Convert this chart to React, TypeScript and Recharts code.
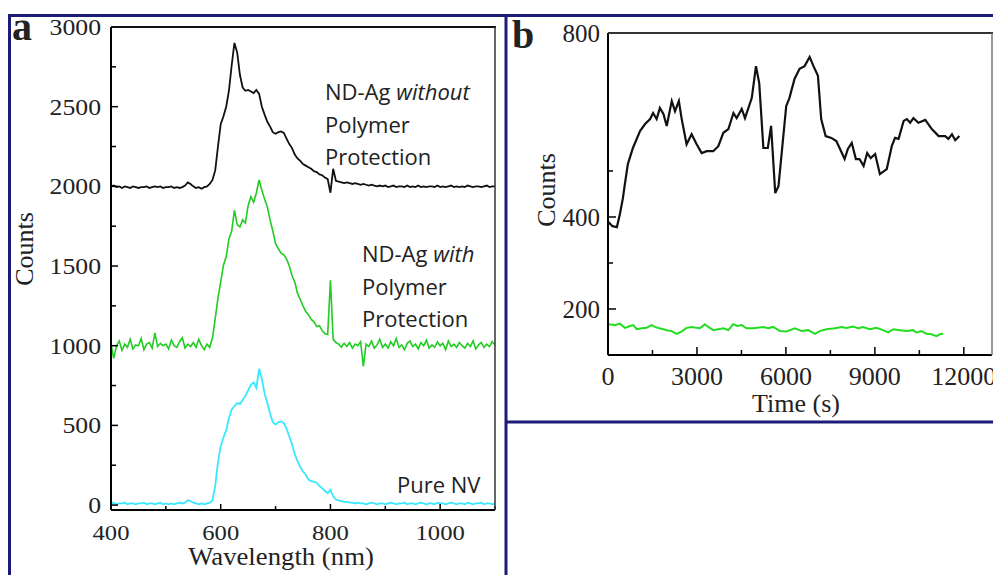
import React from 'react';
import { LineChart, Line, XAxis, YAxis } from 'recharts';

// panel a: emission spectra, 5 nm steps
const wavelengths = [
  400, 405, 410, 415, 420, 425, 430, 435, 440, 445,
  450, 455, 460, 465, 470, 475, 480, 485, 490, 495,
  500, 505, 510, 515, 520, 525, 530, 535, 540, 545,
  550, 555, 560, 565, 570, 575, 580, 585, 590, 595,
  600, 605, 610, 615, 620, 625, 630, 635, 640, 645,
  650, 655, 660, 665, 670, 675, 680, 685, 690, 695,
  700, 705, 710, 715, 720, 725, 730, 735, 740, 745,
  750, 755, 760, 765, 770, 775, 780, 785, 790, 795,
  800, 805, 810, 815, 820, 825, 830, 835, 840, 845,
  850, 855, 860, 865, 870, 875, 880, 885, 890, 895,
  900, 905, 910, 915, 920, 925, 930, 935, 940, 945,
  950, 955, 960, 965, 970, 975, 980, 985, 990, 995,
  1000, 1005, 1010, 1015, 1020, 1025, 1030, 1035, 1040, 1045,
  1050, 1055, 1060, 1065, 1070, 1075, 1080, 1085, 1090, 1095,
  1100,
];

const ndAgWithout = [
  2000, 2005, 1995, 2000, 1990, 2000, 1995, 1990, 2000, 1995,
  1990, 1995, 1995, 2000, 1990, 1995, 2000, 1995, 2000, 1990,
  1995, 1995, 2000, 1990, 1995, 1990, 1995, 2005, 2025, 2015,
  2000, 1990, 1995, 1985, 1995, 2000, 2015, 2040, 2100, 2250,
  2390, 2440, 2500, 2600, 2760, 2900, 2840, 2700, 2620, 2600,
  2605, 2595, 2585, 2605, 2580, 2500, 2450, 2405, 2375, 2340,
  2330, 2340, 2345, 2335, 2300, 2265, 2240, 2200, 2175, 2160,
  2140, 2130, 2120, 2110, 2095, 2090, 2075, 2070, 2055, 2045,
  1960, 2110, 2035, 2030, 2025, 2020, 2025, 2020, 2015, 2020,
  2015, 2010, 2015, 2010, 2005, 2010, 2005, 2000, 2005, 2000,
  2005, 1995, 2000, 2005, 1995, 2000, 2000, 1995, 2005, 1995,
  2000, 1995, 2005, 1995, 2000, 1995, 2000, 2000, 1995, 2005,
  1995, 2000, 1995, 2000, 2005, 1995, 2000, 1995, 2000, 1995,
  2005, 2000, 1995, 2000, 2000, 1995, 2000, 2005, 1995, 2000,
  2000,
];

const ndAgWith = [
  1010, 920, 1000, 1030, 970, 1010, 990, 1040, 980, 1005,
  1000, 1045, 975, 1010, 1020, 985, 1080, 995, 1015, 1000,
  1010, 980, 1035, 1000, 990, 1025, 1050, 985, 1010, 995,
  1020, 990, 1040, 1000, 975, 1010, 990, 1050, 1170, 1300,
  1400, 1505, 1560, 1670, 1720, 1850, 1760, 1745, 1790, 1770,
  1880, 1935, 1900, 1960, 2040, 1975, 1920, 1870, 1790, 1720,
  1640, 1610, 1580, 1570, 1545, 1500, 1440, 1400, 1330, 1290,
  1250, 1215, 1195, 1165, 1150, 1120, 1125, 1095, 1075, 1070,
  1410, 1040, 1020, 1010, 990, 1015, 995, 1020, 985, 1010,
  1000, 1025, 870, 1010, 995, 1030, 985, 1005, 1040, 990,
  1010, 985, 1025, 1000, 1045, 990, 1005, 975, 1015, 1030,
  995, 1010, 980, 1020, 1000, 1035, 985, 1005, 990, 1025,
  1000, 1015, 975, 1030, 995, 1010, 990, 1020, 1000, 985,
  1015, 995, 1030, 980, 1005, 1020, 990, 1010, 995, 1025,
  1005,
];

const pureNV = [
  10, 15, 5, 10, 10, 15, 5, 10, 10, 5,
  10, 10, 15, 5, 10, 10, 5, 10, 15, 5,
  10, 5, 10, 5, 10, 15, 10, 15, 30, 25,
  15, 10, 5, 10, 5, 10, 15, 30, 120, 270,
  370, 425, 470, 545, 600, 620, 640, 635, 660, 685,
  720, 755, 770, 735, 855, 790, 700, 640, 575, 520,
  505, 520, 525, 515, 480, 430, 380, 320, 275, 240,
  210, 190, 160, 150, 145, 140, 120, 105, 90, 75,
  95, 55, 35, 30, 25, 20, 20, 15, 15, 10,
  15, 10, 10, 5, 10, 15, 10, 5, 10, 10,
  5, 10, 15, 10, 5, 10, 10, 15, 5, 10,
  10, 5, 10, 15, 10, 5, 10, 10, 5, 15,
  10, 10, 5, 10, 15, 10, 5, 10, 10, 5,
  15, 10, 5, 10, 10, 15, 5, 10, 10, 5,
  10,
];

const yTicksA = [0, 250, 500, 750, 1000, 1250, 1500, 1750, 2000, 2250, 2500, 2750, 3000];
const xTicksA = [400, 500, 600, 700, 800, 900, 1000, 1100];

// panel b: counts vs time
const timeBlack = [
  0, 150, 300, 400, 500, 570, 670, 840, 1080, 1250,
  1420, 1520, 1640, 1750, 1870, 1980, 2150, 2260, 2390, 2480,
  2650, 2820, 2990, 3160, 3330, 3550, 3720, 3890, 4060, 4230,
  4340, 4510, 4620, 4850, 4990, 5100, 5240, 5390, 5500, 5640,
  5750, 6010, 6120, 6290, 6460, 6630, 6800, 6930, 7080, 7190,
  7340, 7530, 7700, 7860, 7980, 8090, 8220, 8360, 8480, 8620,
  8740, 8860, 9010, 9170, 9400, 9570, 9680, 9800, 9970, 10080,
  10190, 10300, 10470, 10700, 10920, 11150, 11370, 11480, 11600, 11710,
  11850,
];
const countsBlack = [
  390, 380, 378, 406, 440, 472, 515, 550, 587, 602,
  613, 626, 613, 637, 624, 598, 652, 630, 652, 615,
  558, 580, 558, 539, 543, 543, 554, 583, 591, 626,
  615, 635, 615, 659, 728, 691, 550, 550, 598, 452,
  467, 641, 659, 700, 722, 728, 748, 728, 707, 613,
  576, 572, 565, 543, 526, 548, 561, 526, 526, 511,
  539, 528, 537, 493, 504, 554, 572, 570, 609, 613,
  605, 615, 605, 611, 591, 576, 576, 570, 580, 567,
  576,
];

const timeGreen = [
  0, 240, 400, 570, 740, 850, 970, 1140, 1300, 1470,
  1580, 1730, 1870, 1980, 2150, 2310, 2480, 2650, 2820, 2990,
  3100, 3270, 3380, 3550, 3720, 3890, 4060, 4220, 4360, 4510,
  4670, 4900, 5240, 5400, 5570, 5800, 6020, 6300, 6530, 6750,
  6980, 7140, 7370, 7650, 7880, 8040, 8270, 8440, 8600, 8830,
  9050, 9280, 9450, 9620, 9840, 10070, 10290, 10400, 10570, 10740,
  10910, 11080, 11190, 11300,
];
const countsGreen = [
  167, 165, 168, 159, 163, 165, 156, 158, 159, 165,
  161, 158, 156, 154, 152, 146, 151, 159, 161, 159,
  158, 167, 161, 154, 156, 158, 154, 167, 163, 165,
  158, 158, 161, 158, 161, 152, 151, 158, 152, 154,
  146, 152, 156, 158, 161, 159, 162, 158, 161, 156,
  159, 154, 149, 156, 154, 152, 154, 149, 152, 146,
  145, 141, 145, 146,
];

const yTicksB = [200, 300, 400, 500, 800];
const yLabelsB = [200, 400, 800];
const xTicksB = [0, 1500, 3000, 4500, 6000, 7500, 9000, 10500, 12000];

const NAVY = '#1c1c78';
const SERIF = '"Liberation Serif", Times, serif';
const SANS = '"Open Sans", "Noto Sans", sans-serif';

const spectra = wavelengths.map((w, i) => ({
  w,
  without: ndAgWithout[i],
  withP: ndAgWith[i],
  nv: pureNV[i],
}));
const blackData = timeBlack.map((t, i) => ({ t, v: countsBlack[i] }));
const greenData = timeGreen.map((t, i) => ({ t, v: countsGreen[i] }));

// ticks point into the plot; labels only on the major ones
function YTickA(props: any) {
  const { x, y, payload } = props;
  const major = payload.value % 500 === 0;
  return (
    <g>
      <line x1={x} y1={y} x2={x + (major ? 7 : 5)} y2={y} stroke="#000" strokeWidth={1.5} />
      {major && (
        <text transform={`translate(${x - 10},${y + 8}) scale(1.12,1)`} textAnchor="end"
          fontFamily={SERIF} fontSize={23} fill="#222">{payload.value}</text>
      )}
    </g>
  );
}

function XTickA(props: any) {
  const { x, y, payload } = props;
  const major = payload.value % 200 === 0;
  return (
    <g>
      <line x1={x} y1={y} x2={x} y2={y - (major ? 6 : 4)} stroke="#000" strokeWidth={1.5} />
      {major && payload.value < 1100 && (
        <text transform={`translate(${x},${y + 30}) scale(1.12,1)`} textAnchor="middle"
          fontFamily={SERIF} fontSize={22} fill="#222">{payload.value}</text>
      )}
    </g>
  );
}

function YTickB(props: any) {
  const { x, y, payload } = props;
  const major = yLabelsB.includes(payload.value);
  return (
    <g>
      <line x1={x} y1={y} x2={x + (major ? 8 : 5)} y2={y} stroke="#000" strokeWidth={1.5} />
      {major && (
        <text x={x - 8} y={y + 8.5} textAnchor="end" fontFamily={SERIF} fontSize={25} fill="#222">
          {payload.value}
        </text>
      )}
    </g>
  );
}

function XTickB(props: any) {
  const { x, y, payload } = props;
  const major = payload.value % 3000 === 0;
  return (
    <g>
      <line x1={x} y1={y} x2={x} y2={y - (major ? 8 : 5)} stroke="#000" strokeWidth={1.5} />
      {major && (
        <text x={x} y={y + 30} textAnchor="middle" fontFamily={SERIF} fontSize={26} fill="#222">
          {payload.value}
        </text>
      )}
    </g>
  );
}

export default function App() {
  return (
    <div style={{ position: 'absolute', left: 0, top: 0, width: 993, height: 575, background: '#fff', overflow: 'hidden' }}>
      <div style={{ position: 'absolute', left: 0, top: 0 }}>
        <LineChart width={510} height={575} data={spectra} margin={{ top: 27, right: 15, bottom: 25, left: 51 }}>
          <XAxis dataKey="w" type="number" domain={[400, 1100]} ticks={xTicksA} interval={0} height={40}
            allowDataOverflow tickSize={0} tickMargin={0} tickLine={false}
            axisLine={{ stroke: '#000', strokeWidth: 2 }} tick={(p: any) => <XTickA {...p} />} />
          <YAxis type="number" domain={[-31, 3000]} ticks={yTicksA} interval={0} width={60}
            allowDataOverflow tickSize={0} tickMargin={0} tickLine={false}
            axisLine={{ stroke: '#000', strokeWidth: 2 }} tick={(p: any) => <YTickA {...p} />} />
          <Line type="linear" dataKey="without" stroke="#111" strokeWidth={1.8} dot={false} isAnimationActive={false} />
          <Line type="linear" dataKey="withP" stroke="#22cc22" strokeWidth={1.6} dot={false} isAnimationActive={false} />
          <Line type="linear" dataKey="nv" stroke="#38e8ff" strokeWidth={1.8} dot={false} isAnimationActive={false} />
        </LineChart>
      </div>

      <div style={{ position: 'absolute', left: 506, top: 0 }}>
        <LineChart width={487} height={430} margin={{ top: 33, right: 1, bottom: 35, left: 42 }}>
          <XAxis dataKey="t" type="number" domain={[0, 12950]} ticks={xTicksB} interval={0} height={40}
            allowDataOverflow tickSize={0} tickMargin={0} tickLine={false}
            axisLine={{ stroke: '#000', strokeWidth: 2 }} tick={(p: any) => <XTickB {...p} />} />
          <YAxis type="number" domain={[100, 800]} ticks={yTicksB} interval={0} width={60}
            allowDataOverflow tickSize={0} tickMargin={0} tickLine={false}
            axisLine={{ stroke: '#000', strokeWidth: 2 }} tick={(p: any) => <YTickB {...p} />} />
          <Line data={blackData} type="linear" dataKey="v" stroke="#111" strokeWidth={2.2} dot={false} isAnimationActive={false} />
          <Line data={greenData} type="linear" dataKey="v" stroke="#22dd22" strokeWidth={2} dot={false} isAnimationActive={false} />
        </LineChart>
      </div>

      <svg width={993} height={575} style={{ position: 'absolute', left: 0, top: 0, pointerEvents: 'none' }}>
        {/* panel frames */}
        <line x1={8} y1={15.5} x2={993} y2={15.5} stroke={NAVY} strokeWidth={3} />
        <line x1={9.5} y1={15} x2={9.5} y2={575} stroke={NAVY} strokeWidth={3} />
        <line x1={506} y1={15} x2={506} y2={575} stroke={NAVY} strokeWidth={3} />
        <line x1={506} y1={422} x2={993} y2={422} stroke={NAVY} strokeWidth={3} />
        {/* plot boxes */}
        <line x1={111} y1={27} x2={496} y2={27} stroke="#111" strokeWidth={2} />
        <line x1={495} y1={27} x2={495} y2={510} stroke="#333" strokeWidth={1.5} />
        <line x1={608} y1={33} x2={993} y2={33} stroke="#333" strokeWidth={2} />
        <line x1={992} y1={33} x2={992} y2={355} stroke="#777" strokeWidth={1.5} />

        <text x={12} y={40} fontFamily={SERIF} fontWeight="bold" fontSize={40} fill="#222">a</text>
        <text x={512} y={48} fontFamily={SERIF} fontWeight="bold" fontSize={40} fill="#222">b</text>

        <text transform="translate(33,249) rotate(-90)" textAnchor="middle" fontFamily={SERIF} fontSize={26} fill="#222">Counts</text>
        <text transform="translate(281,565) scale(1.07,1)" textAnchor="middle" fontFamily={SERIF} fontSize={25} fill="#222">Wavelength (nm)</text>
        <text transform="translate(555,190) rotate(-90)" textAnchor="middle" fontFamily={SERIF} fontSize={26} fill="#222">Counts</text>
        <text x={796} y={412} textAnchor="middle" fontFamily={SERIF} fontSize={26} fill="#222">Time (s)</text>

        <g fontFamily={SANS} fontSize={22} fill="#222">
          <text x={325} y={100}>ND-Ag <tspan fontStyle="italic">without</tspan></text>
          <text x={325} y={133}>Polymer</text>
          <text x={325} y={165}>Protection</text>
          <text x={362} y={262}>ND-Ag <tspan fontStyle="italic">with</tspan></text>
          <text x={362} y={295}>Polymer</text>
          <text x={362} y={327}>Protection</text>
          <text x={397} y={493}>Pure NV</text>
        </g>
      </svg>
    </div>
  );
}
